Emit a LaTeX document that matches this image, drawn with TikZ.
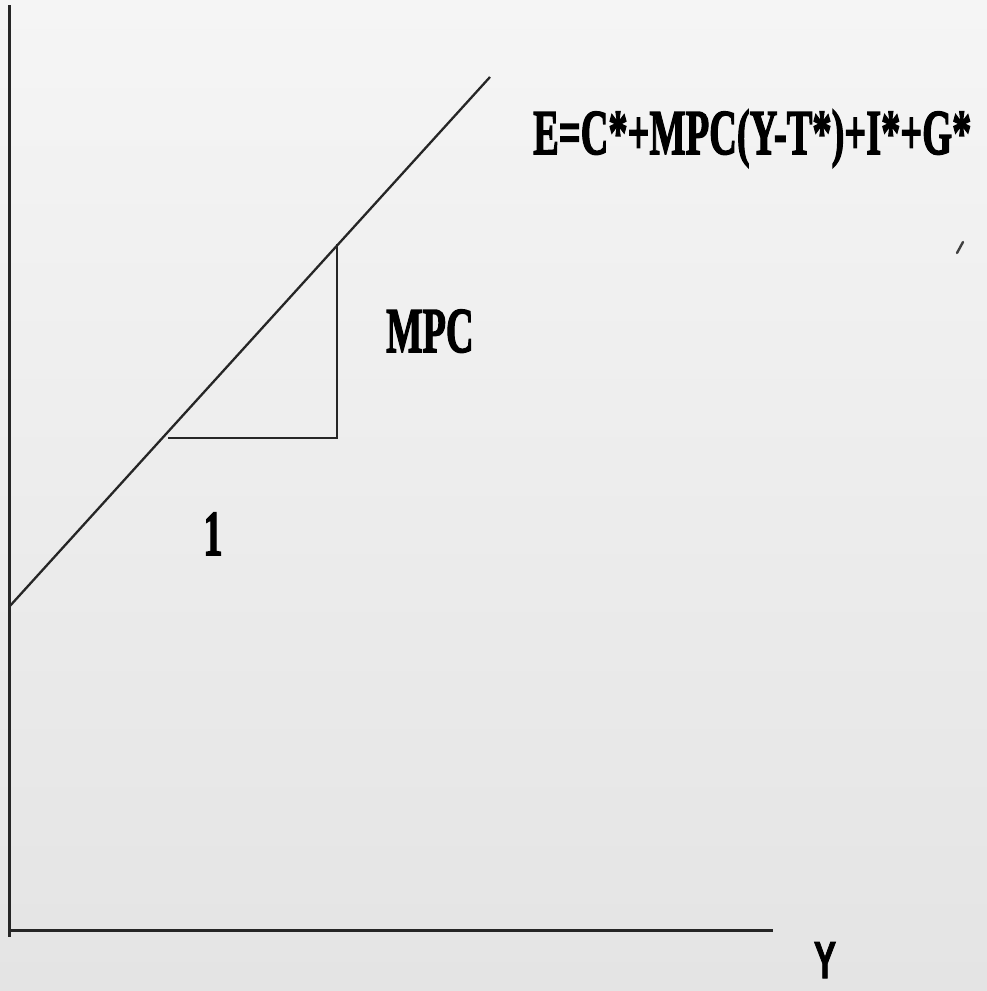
\documentclass[tikz,border=0pt]{standalone}
\usepackage{fontspec}
\setmainfont{Liberation Serif}
\newfontfamily\heavyserif{Liberation Serif Bold}[FakeBold=2.5]
\newfontfamily\heavysans{Liberation Sans Bold}[FakeBold=2]
\begin{document}
\begin{tikzpicture}[x=1pt,y=-1pt,
  axis/.style={line width=3pt,draw=black!85},
  thin/.style={line width=2.3pt,draw=black!85},
  lbl/.style={inner sep=0pt,text=black,font=\heavyserif\fontsize{64}{64}\selectfont}]
\shade[top color={rgb,255:red,245;green,245;blue,245},bottom color={rgb,255:red,228;green,228;blue,228}] (0,0) rectangle (987,991);
\useasboundingbox (0,0) rectangle (987,991);
% coordinates
\coordinate (ytop) at (9,5);
\coordinate (ybot) at (9,937);
\coordinate (xl) at (9,930);
\coordinate (xr) at (773,930);
\coordinate (ls) at (9,607);
\coordinate (le) at (490,77);
\coordinate (ta) at (168,438);
\coordinate (tb) at (337,438);
\coordinate (tc) at (337,244);
\coordinate (m1) at (957,253);
\coordinate (m2) at (963,242);
% axes
\draw[axis] (ytop) -- (ybot);
\draw[axis] (xl) -- (xr);
% expenditure line
\draw[thin] (ls) -- (le);
% slope triangle
\draw[thin] (ta) -- (tb) -- (tc);
% small stray mark
\draw[line width=2.4pt,draw=black!75,line cap=round] (m1) -- (m2);
% labels
\node[lbl,anchor=base west] (eq) at (533,154) {\scalebox{0.6}[1]{E=C*+MPC(Y-T*)+I*+G*}};
\node[lbl,anchor=base west] (mpc) at (386,352) {\scalebox{0.6}[1]{MPC}};
\node[lbl,anchor=base] (one) at (213,555) {\scalebox{0.6}[1]{1}};
\node[inner sep=0pt,anchor=base,font=\heavysans\fontsize{52}{52}\selectfont] (ylab) at (825,978) {\scalebox{0.64}[1]{Y}};
\end{tikzpicture}
\end{document}
